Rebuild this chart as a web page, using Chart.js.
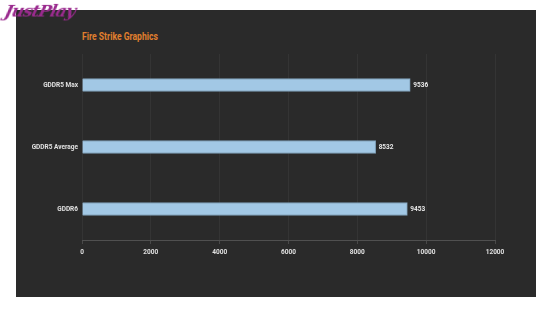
<!DOCTYPE html>
<html>
<head>
<meta charset="utf-8">
<script src="https://cdn.jsdelivr.net/npm/chart.js@4"></script>
<style>
  body { margin: 0; background: #fff; width: 553px; height: 312px; position: relative; overflow: hidden; }
  #panel { position: absolute; left: 16px; top: 10px; width: 520px; height: 287px; background: #2a2a2a; }
  #title { position: absolute; left: 66px; top: 20px; color: #e07f2e; font: bold 11px Roboto, sans-serif; transform: scaleX(0.78); transform-origin: left center; white-space: nowrap; }
  #logo { position: absolute; left: 5px; top: 1px; color: #9a2a8e; font: italic bold 17px 'DejaVu Serif', serif; letter-spacing: -1px; transform: skewX(-14deg); }
  canvas { position: absolute; left: 0; top: 0; }
</style>
</head>
<body>
<div id="panel">
  <div id="title">Fire Strike Graphics</div>
  <canvas id="chart" width="520" height="287"></canvas>
</div>
<div id="logo">JustPlay</div>
<script>
const categories = ['GDDR5 Max', 'GDDR5 Average', 'GDDR6'];
const scores = [9536, 8532, 9453];
const xTicks = [0, 2000, 4000, 6000, 8000, 10000, 12000];

const labelFont = { family: 'Roboto, sans-serif', size: 6.5, weight: 'bold' };

// Value labels to the right of each bar
const valueLabels = {
  id: 'valueLabels',
  afterDatasetsDraw(chart) {
    const ctx = chart.ctx;
    const meta = chart.getDatasetMeta(0);
    ctx.save();
    ctx.fillStyle = '#e8e8e8';
    ctx.font = 'bold 6.5px Roboto, sans-serif';
    ctx.textBaseline = 'middle';
    meta.data.forEach((bar, i) => {
      ctx.fillText(scores[i], bar.x + 3, bar.y);
    });
    ctx.restore();
  }
};

new Chart(document.getElementById('chart'), {
  type: 'bar',
  data: {
    labels: categories,
    datasets: [{
      data: scores,
      backgroundColor: '#a2c8e5',
      borderColor: '#7f9fb8',
      borderWidth: 1,
      barThickness: 13
    }]
  },
  plugins: [valueLabels],
  options: {
    indexAxis: 'y',
    responsive: false,
    animation: false,
    layout: { padding: { top: 44, right: 41, left: 0, bottom: 0 } },
    plugins: {
      legend: { display: false },
      tooltip: { enabled: false }
    },
    scales: {
      x: {
        min: 0,
        max: 12000,
        afterBuildTicks: axis => { axis.ticks = xTicks.map(v => ({ value: v })); },
        afterFit: axis => { axis.height = 57; },
        ticks: { color: '#e0e0e0', font: labelFont, padding: 4, maxRotation: 0, callback: v => String(v) },
        grid: { color: 'rgba(255,255,255,0.05)', tickLength: 4, tickColor: 'rgba(255,255,255,0.15)' },
        border: { color: 'rgba(255,255,255,0.18)' }
      },
      y: {
        afterFit: axis => { axis.width = 66; },
        ticks: { color: '#e0e0e0', font: labelFont, padding: 0 },
        grid: { display: false, tickLength: 4 },
        border: { display: false }
      }
    }
  }
});
</script>
</body>
</html>
